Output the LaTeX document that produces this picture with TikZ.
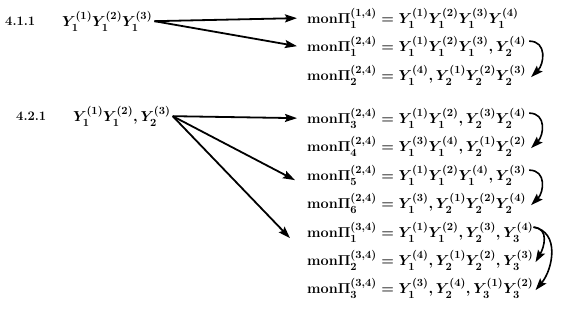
\documentclass[tikz,border=0pt]{standalone}
\usepackage{amsmath, amssymb}
\usepackage{tikz}
\usetikzlibrary{arrows.meta, positioning, calc}

\newcommand{\monpi}{\mathbf{mon}\Pi}

\begin{document}
\begin{tikzpicture}[x=1pt, y=-1pt, >={Stealth[length=12pt, width=8pt, inset=2pt]}]
        \tikzset{
            tagnode/.style={inner sep=0pt, anchor=base west, font=\fontsize{13}{15}\selectfont\bfseries},
            wordnode/.style={inner sep=0pt, anchor=base west, font=\fontsize{15.5}{18}\selectfont\boldmath},
            monnode/.style={inner sep=0pt, anchor=base west, font=\fontsize{15.2}{18}\selectfont\boldmath},
            maparrow/.style={->, line width=1.8pt},
            turnarrow/.style={->, line width=1.6pt}
        }
        \useasboundingbox (0,0) rectangle (562,320);

        \node [tagnode] (tagA) at (5,26) {4.1.1};
        \node [wordnode] (wordA) at (62,27) {$Y_1^{(1)}Y_1^{(2)}Y_1^{(3)}$};
        \node [tagnode] (tagB) at (16,121) {4.2.1};
        \node [wordnode] (wordB) at (73,122) {$Y_1^{(1)}Y_1^{(2)},Y_2^{(3)}$};

        \node [monnode] (r1) at (307,24) {$\monpi^{(1,4)}_1 = Y_1^{(1)}Y_1^{(2)}Y_1^{(3)}Y_1^{(4)}$};
        \node [monnode] (r2) at (307,52) {$\monpi^{(2,4)}_1 = Y_1^{(1)}Y_1^{(2)}Y_1^{(3)},Y_2^{(4)}$};
        \node [monnode] (r3) at (307,81) {$\monpi^{(2,4)}_2 = Y_1^{(4)},Y_2^{(1)}Y_2^{(2)}Y_2^{(3)}$};
        \node [monnode] (r4) at (307,124) {$\monpi^{(2,4)}_3 = Y_1^{(1)}Y_1^{(2)},Y_2^{(3)}Y_2^{(4)}$};
        \node [monnode] (r5) at (307,152) {$\monpi^{(2,4)}_4 = Y_1^{(3)}Y_1^{(4)},Y_2^{(1)}Y_2^{(2)}$};
        \node [monnode] (r6) at (307,181) {$\monpi^{(2,4)}_5 = Y_1^{(1)}Y_1^{(2)}Y_1^{(4)},Y_2^{(3)}$};
        \node [monnode] (r7) at (307,209) {$\monpi^{(2,4)}_6 = Y_1^{(3)},Y_2^{(1)}Y_2^{(2)}Y_2^{(4)}$};
        \node [monnode] (r8) at (307,238) {$\monpi^{(3,4)}_1 = Y_1^{(1)}Y_1^{(2)},Y_2^{(3)},Y_3^{(4)}$};
        \node [monnode] (r9) at (307,266) {$\monpi^{(3,4)}_2 = Y_1^{(4)},Y_2^{(1)}Y_2^{(2)},Y_3^{(3)}$};
        \node [monnode] (r10) at (307,294) {$\monpi^{(3,4)}_3 = Y_1^{(3)},Y_2^{(4)},Y_3^{(1)}Y_3^{(2)}$};

        % from 4.1.1
        \draw [maparrow] ([xshift=2pt]wordA.east) -- ([xshift=-10pt]r1.west);
        \draw [maparrow] ([xshift=2pt]wordA.east) -- ([xshift=-10pt]r2.west);

        % from 4.2.1
        \draw [maparrow] ([xshift=2pt]wordB.east) -- ([xshift=-10pt]r4.west);
        \draw [maparrow] ([xshift=2pt]wordB.east) -- ([xshift=-12pt, yshift=-5pt]r6.west);
        \draw [maparrow] ([xshift=2pt]wordB.east) -- ([xshift=-17pt, yshift=-6pt]r8.west);

        % swaps
        \draw [turnarrow] ([xshift=3pt, yshift=5pt]r2.east) to[out=0, in=45, looseness=1.3] ([xshift=5pt, yshift=-2pt]r3.east);
        \draw [turnarrow] ([xshift=3pt, yshift=5pt]r4.east) to[out=0, in=45, looseness=1.3] ([xshift=5pt, yshift=-2pt]r5.east);
        \draw [turnarrow] ([xshift=3pt, yshift=5pt]r6.east) to[out=0, in=45, looseness=1.3] ([xshift=5pt, yshift=-2pt]r7.east);
        \draw [turnarrow] ([xshift=0pt, yshift=5pt]r8.east) to[out=-5, in=60, looseness=1.2] ([xshift=2pt, yshift=-2pt]r9.east);
        \draw [turnarrow] ([xshift=0pt, yshift=5pt]r8.east) to[out=-10, in=50, looseness=1.1] ([xshift=2pt, yshift=-2pt]r10.east);
    \end{tikzpicture}
\end{document}
